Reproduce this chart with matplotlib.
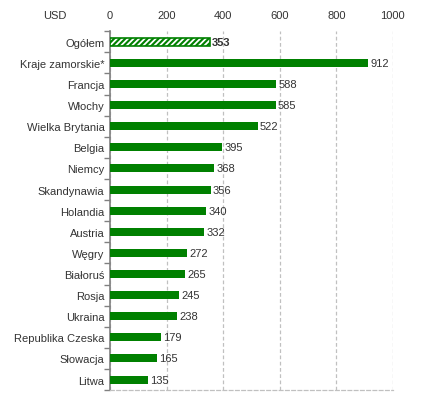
import numpy as np
import matplotlib.pyplot as plt

plt.rcParams['font.family'] = ['Liberation Sans', 'DejaVu Sans']
plt.rcParams['hatch.linewidth'] = 1.3

# dane
kraje = ['Ogółem', 'Kraje zamorskie*', 'Francja', 'Włochy', 'Wielka Brytania',
         'Belgia', 'Niemcy', 'Skandynawia', 'Holandia', 'Austria', 'Węgry',
         'Białoruś', 'Rosja', 'Ukraina', 'Republika Czeska', 'Słowacja', 'Litwa']
wartosci = [353, 912, 588, 585, 522, 395, 368, 356, 340, 332, 272, 265, 245,
            238, 179, 165, 135]
xticks = [0, 200, 400, 600, 800, 1000]

zielony = '#008000'
tekst = '#333333'

fig = plt.figure(figsize=(4.22, 4.02), dpi=100)
ax = fig.add_axes([0.261, 0.027, 0.67, 0.893])

n = len(kraje)
y = np.arange(n)
h = 0.38
# zwykle slupki (bez pierwszego)
ax.barh(y[1:], wartosci[1:], height=h, color=zielony, zorder=3)
# pierwszy slupek kreskowany: biale kreski na zielonym + zielona ramka
ax.barh(y[0], wartosci[0], height=h, color=zielony, edgecolor='white',
        hatch='//////', linewidth=0, zorder=3)
ax.barh(y[0], wartosci[0], height=h, fill=False, edgecolor=zielony,
        linewidth=1.2, zorder=3)

for i, v in enumerate(wartosci):
    ax.text(v + 8, i, str(v), va='center', ha='left', fontsize=8, color=tekst,
            fontweight='bold' if i == 0 else 'normal', zorder=4)

ax.set_ylim(n - 0.5, -0.5)
ax.set_xlim(0, 1000)
ax.set_yticks(y)
ax.set_yticklabels(kraje, fontsize=8, color=tekst)
ax.set_yticks(np.arange(n + 1) - 0.5, minor=True)
ax.tick_params(axis='y', which='major', length=0, pad=4)
ax.tick_params(axis='y', which='minor', length=4, color='#808080', width=1)

ax.set_xticks(xticks)
ax.xaxis.tick_top()
ax.tick_params(axis='x', length=0, labelsize=8, labelcolor=tekst, pad=8)
ax.grid(axis='x', color='#c0c0c0', linestyle=(0, (3, 2)), linewidth=0.9, zorder=0)

for s in ['top', 'right']:
    ax.spines[s].set_visible(False)
ax.spines['left'].set_color('#808080')
ax.spines['left'].set_linewidth(1.2)
ax.spines['bottom'].set_color('#c0c0c0')
ax.spines['bottom'].set_linestyle((0, (3, 2)))
ax.spines['bottom'].set_linewidth(0.9)

fig.text(55 / 422, 1 - 16 / 402, 'USD', fontsize=8, color=tekst, ha='center', va='center')

fig.savefig('out.png', dpi=100)
